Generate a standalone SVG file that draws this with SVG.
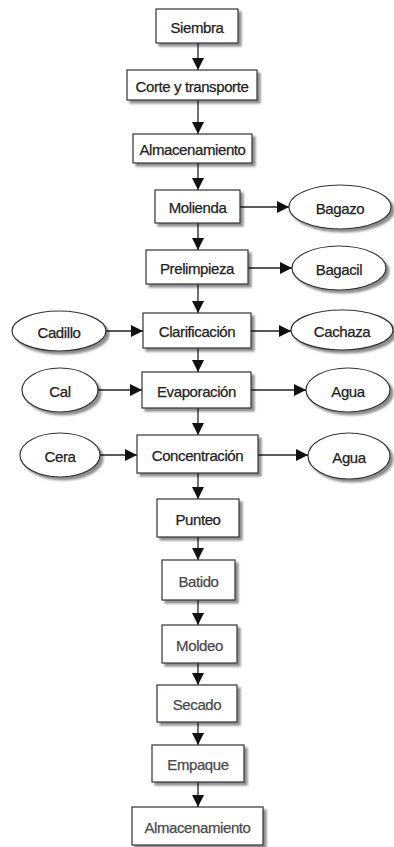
<svg xmlns="http://www.w3.org/2000/svg" width="394" height="847" viewBox="0 0 394 847">
  <defs>
    <marker id="arrow" markerUnits="userSpaceOnUse" markerWidth="14" markerHeight="14" refX="13" refY="7" orient="auto">
      <path d="M1,1 L13,7 L1,13 Z" fill="#111"/>
    </marker>
    <filter id="shadow" x="-10%" y="-10%" width="130%" height="140%">
      <feOffset dx="2.5" dy="2.5" in="SourceAlpha" result="o"/>
      <feGaussianBlur in="o" stdDeviation="1" result="b"/>
      <feComponentTransfer in="b" result="s"><feFuncA type="linear" slope="0.45"/></feComponentTransfer>
      <feMerge><feMergeNode in="s"/><feMergeNode in="SourceGraphic"/></feMerge>
    </filter>
  </defs>
  <style>
    .box { fill: #fff; stroke: #333; stroke-width: 1.2; filter: url(#shadow); }
    .oval { fill: #fff; stroke: #333; stroke-width: 1.2; filter: url(#shadow); }
    .lbl { font-family: "Liberation Sans", Arial, sans-serif; font-size: 15px; fill: #222; stroke: #222; stroke-width: 0.25; text-anchor: middle; dominant-baseline: central; letter-spacing: -0.4px; }
    .soft { fill: #4a4a4a; stroke: #4a4a4a; }
    .edge { stroke: #222; stroke-width: 1.3; fill: none; marker-end: url(#arrow); }
  </style>

  <rect width="394" height="847" fill="#fff"/>

  <!-- connectors -->
  <g id="connectors">
    <line class="edge" x1="198" y1="43" x2="198" y2="70"/>
    <line class="edge" x1="198" y1="100" x2="198" y2="134"/>
    <line class="edge" x1="198" y1="163" x2="198" y2="190"/>
    <line class="edge" x1="198" y1="223" x2="198" y2="250"/>
    <line class="edge" x1="198" y1="284" x2="198" y2="313"/>
    <line class="edge" x1="198" y1="348" x2="198" y2="372"/>
    <line class="edge" x1="198" y1="408" x2="198" y2="435"/>
    <line class="edge" x1="198" y1="473" x2="198" y2="499"/>
    <line class="edge" x1="198" y1="537" x2="198" y2="560"/>
    <line class="edge" x1="198" y1="600" x2="198" y2="625"/>
    <line class="edge" x1="198" y1="663" x2="198" y2="685"/>
    <line class="edge" x1="198" y1="722" x2="198" y2="745"/>
    <line class="edge" x1="198" y1="782" x2="198" y2="807"/>

    <line class="edge" x1="240" y1="207" x2="289" y2="207"/>
    <line class="edge" x1="248" y1="268" x2="292" y2="268"/>
    <line class="edge" x1="106" y1="331" x2="143" y2="331"/>
    <line class="edge" x1="251" y1="331" x2="291" y2="331"/>
    <line class="edge" x1="98" y1="390" x2="142" y2="390"/>
    <line class="edge" x1="251" y1="390" x2="306" y2="390"/>
    <line class="edge" x1="100" y1="455" x2="137" y2="455"/>
    <line class="edge" x1="258" y1="455" x2="308" y2="455"/>
  </g>

  <!-- process steps -->
  <g id="siembra"><rect class="box" x="156" y="9" width="82" height="34"/><text class="lbl" x="197" y="27">Siembra</text></g>
  <g id="corte"><rect class="box" x="127" y="70" width="130" height="30"/><text class="lbl" x="192" y="86">Corte y transporte</text></g>
  <g id="almacenamiento1"><rect class="box" x="133" y="134" width="119" height="29"/><text class="lbl" x="192.5" y="149.5">Almacenamiento</text></g>
  <g id="molienda"><rect class="box" x="155" y="190" width="85" height="33"/><text class="lbl" x="197.5" y="207.5">Molienda</text></g>
  <g id="prelimpieza"><rect class="box" x="146" y="250" width="102" height="34"/><text class="lbl" x="197" y="268">Prelimpieza</text></g>
  <g id="clarificacion"><rect class="box" x="143" y="313" width="108" height="35"/><text class="lbl" x="197" y="331">Clarificación</text></g>
  <g id="evaporacion"><rect class="box" x="142" y="372" width="109" height="36"/><text class="lbl" x="196.5" y="391">Evaporación</text></g>
  <g id="concentracion"><rect class="box" x="137" y="435" width="121" height="38"/><text class="lbl" x="197.5" y="455">Concentración</text></g>
  <g id="punteo"><rect class="box" x="157" y="499" width="82" height="38"/><text class="lbl" x="198" y="519">Punteo</text></g>
  <g id="batido"><rect class="box" x="162" y="560" width="73" height="40"/><text class="lbl soft" x="198.5" y="581">Batido</text></g>
  <g id="moldeo"><rect class="box" x="162" y="625" width="75" height="38"/><text class="lbl soft" x="199.5" y="645">Moldeo</text></g>
  <g id="secado"><rect class="box" x="157" y="685" width="80" height="37"/><text class="lbl soft" x="197" y="704.5">Secado</text></g>
  <g id="empaque"><rect class="box" x="152" y="745" width="92" height="37"/><text class="lbl soft" x="198" y="764.5">Empaque</text></g>
  <g id="almacenamiento2"><rect class="box" x="132" y="807" width="131" height="38"/><text class="lbl soft" x="197.5" y="827">Almacenamiento</text></g>

  <!-- inputs and by-products -->
  <g id="bagazo"><ellipse class="oval" cx="340" cy="207" rx="51" ry="22"/><text class="lbl" x="340" y="208">Bagazo</text></g>
  <g id="bagacil"><ellipse class="oval" cx="339" cy="268" rx="47" ry="22"/><text class="lbl" x="339" y="269">Bagacil</text></g>
  <g id="cadillo"><ellipse class="oval" cx="59" cy="331" rx="47" ry="20"/><text class="lbl" x="59" y="332">Cadillo</text></g>
  <g id="cachaza"><ellipse class="oval" cx="342" cy="330" rx="51" ry="20"/><text class="lbl" x="342" y="331">Cachaza</text></g>
  <g id="cal"><ellipse class="oval" cx="60" cy="390" rx="38" ry="22"/><text class="lbl" x="60" y="391">Cal</text></g>
  <g id="agua1"><ellipse class="oval" cx="348" cy="390" rx="42" ry="22"/><text class="lbl" x="348" y="391">Agua</text></g>
  <g id="cera"><ellipse class="oval" cx="60" cy="455" rx="40" ry="22"/><text class="lbl" x="60" y="456">Cera</text></g>
  <g id="agua2"><ellipse class="oval" cx="349" cy="456" rx="41" ry="23"/><text class="lbl" x="349" y="457">Agua</text></g>
</svg>
